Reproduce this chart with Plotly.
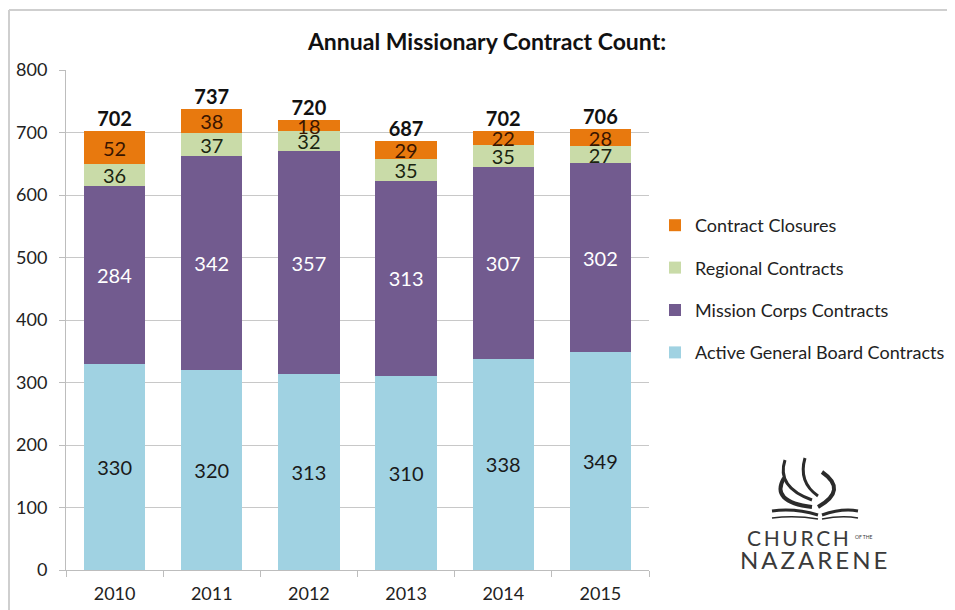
import plotly.graph_objects as go

years = ["2010", "2011", "2012", "2013", "2014", "2015"]
active_general_board = [330, 320, 313, 310, 338, 349]
mission_corps = [284, 342, 357, 313, 307, 302]
regional = [36, 37, 32, 35, 35, 27]
closures = [52, 38, 18, 29, 22, 28]
totals = [702, 737, 720, 687, 702, 706]

series_names = ["Active General Board Contracts", "Mission Corps Contracts",
                "Regional Contracts", "Contract Closures"]
series_values = [active_general_board, mission_corps, regional, closures]
series_colors = ["#A0D2E2", "#725B8F", "#C9DBA8", "#E8790E"]
label_colors = ["#1a1a1a", "#ffffff", "#1a2410", "#3a1500"]
legend_ranks = [4, 3, 2, 1]

FONT = "Lato"
O = 8  # default body margin of the html page
W, H = 955 - O, 610 - O
ML, MR, MT, MB = 66 - O, 306, 70 - O, 40
PW, PH = W - ML - MR, H - MT - MB


def px(x, y):
    # screen pixel -> paper coords
    return (x - O - ML) / PW, (H + O - MB - y) / PH


fig = go.Figure()
for name, vals, col, lc, rk in zip(series_names, series_values, series_colors, label_colors, legend_ranks):
    fig.add_trace(go.Bar(
        x=years, y=vals, name=name, marker=dict(color=col, line=dict(width=0)),
        text=[str(v) for v in vals], textposition="inside", insidetextanchor="middle",
        constraintext="none", textangle=0,
        textfont=dict(family=FONT, size=20, color=lc),
        legendgroup=name, legendrank=rk, width=0.63,
    ))

fig.add_trace(go.Scatter(
    x=years, y=totals, mode="text", text=[str(t) for t in totals],
    textposition="top center", showlegend=False, cliponaxis=False,
    textfont=dict(family=FONT, size=20, color="#111111", weight="bold"),
))

fig.update_layout(
    width=W, height=H, barmode="stack", bargap=0.37,
    margin=dict(l=ML, r=MR, t=MT, b=MB, autoexpand=False),
    paper_bgcolor="white", plot_bgcolor="white",
    font=dict(family=FONT, color="#222222"),
    title=dict(text="<b>Annual Missionary Contract Count:</b>", x=(487 - O) / W, xanchor="center",
               y=1 - (42 - O) / H, yanchor="middle", font=dict(family=FONT, size=23, color="#111111")),
    showlegend=True,
    legend=dict(traceorder="grouped", tracegroupgap=16, x=px(655, 0)[0], xanchor="left",
                y=px(0, 207)[1], yanchor="top", font=dict(family=FONT, size=18, color="#222222"),
                bgcolor="rgba(0,0,0,0)", itemwidth=30),
    xaxis=dict(showgrid=False, showline=True, linecolor="#bdbdbd", linewidth=1,
               ticks="outside", tickson="boundaries", ticklen=6, tickcolor="#bdbdbd",
               ticklabelstandoff=7, automargin=False,
               tickfont=dict(family=FONT, size=18, color="#222222")),
    yaxis=dict(range=[0, 800], dtick=100, showgrid=True, gridcolor="#c8c8c8", gridwidth=1,
               showline=True, linecolor="#bdbdbd", linewidth=1, zeroline=False,
               ticks="outside", ticklen=6, tickcolor="#bdbdbd",
               ticklabelstandoff=8, automargin=False,
               tickfont=dict(family=FONT, size=18, color="#222222")),
)

shapes = []
# outer frame lines
x0, y0 = px(9, 10)
x1, _ = px(960, 10)
_, y2 = px(9, 620)
shapes.append(dict(type="line", xref="paper", yref="paper", x0=x0, y0=y0, x1=x1, y1=y0,
                   line=dict(color="#cfcfcf", width=2)))
shapes.append(dict(type="line", xref="paper", yref="paper", x0=x0, y0=y0, x1=x0, y1=y2,
                   line=dict(color="#cfcfcf", width=2)))


def curve(pts):
    (a, b), (c, d), (e, f) = pts
    p0, p1, p2 = px(a, b), px(c, d), px(e, f)
    return f"M{p0[0]},{p0[1]} Q{p1[0]},{p1[1]} {p2[0]},{p2[1]}"


logo_col = "#2b2b2b"
strokes = [
    ([(772, 511), (795, 508), (818, 515)], 3),
    ([(822, 515), (842, 508), (858, 511)], 3),
    ([(772, 518), (795, 515), (818, 519)], 1.5),
    ([(822, 519), (842, 515), (858, 518)], 1.5),
    ([(784, 478), (770, 502), (812, 507)], 4),
    ([(785, 460), (776, 487), (812, 500)], 3),
    ([(805, 458), (798, 482), (818, 496)], 3),
    ([(822, 472), (848, 490), (818, 507)], 4),
]
for pts, wd in strokes:
    shapes.append(dict(type="path", xref="paper", yref="paper", path=curve(pts),
                       line=dict(color=logo_col, width=wd)))
fig.update_layout(shapes=shapes)

ax, ay = px(798, 537)
fig.add_annotation(xref="paper", yref="paper", x=ax, y=ay, text="C\u2009H\u2009U\u2009R\u2009C\u2009H",
                   showarrow=False, xanchor="center", yanchor="middle",
                   font=dict(family=FONT, size=21, color="#3a3a3a"))
ax, ay = px(864, 537)
fig.add_annotation(xref="paper", yref="paper", x=ax, y=ay, text="OF THE",
                   showarrow=False, xanchor="center", yanchor="middle",
                   font=dict(family=FONT, size=5, color="#3a3a3a"))
ax, ay = px(813, 559)
fig.add_annotation(xref="paper", yref="paper", x=ax, y=ay, text="N\u2009A\u2009Z\u2009A\u2009R\u2009E\u2009N\u2009E",
                   showarrow=False, xanchor="center", yanchor="middle",
                   font=dict(family=FONT, size=24, color="#3a3a3a"))

fig.write_html("out.html")
